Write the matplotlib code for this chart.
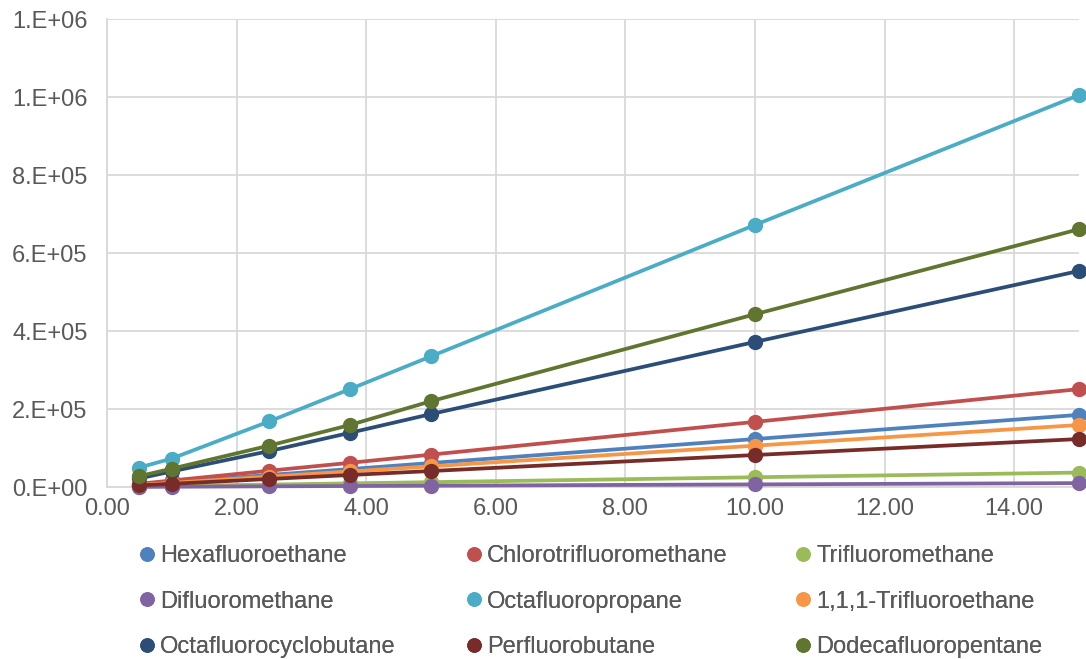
import matplotlib
matplotlib.use("Agg")
import matplotlib.pyplot as plt
from matplotlib.lines import Line2D
from matplotlib.ticker import FuncFormatter, MultipleLocator

# concentration points
x_vals = [0.5, 1.0, 2.5, 3.75, 5.0, 10.0, 15.0]

hexafluoroethane = [6200, 12300, 30800, 46000, 61500, 123000, 185000]
chlorotrifluoromethane = [8300, 16700, 41700, 62000, 83000, 167000, 251000]
trifluoromethane = [1200, 2500, 6200, 9300, 12400, 25000, 37000]
difluoromethane = [330, 670, 1700, 2500, 3300, 6700, 10000]
octafluoropropane = [50000, 73000, 168000, 251000, 335000, 672000, 1005000]
trifluoroethane_111 = [5300, 10600, 26500, 39800, 53000, 106000, 159000]
octafluorocyclobutane = [22000, 40000, 92000, 139000, 187000, 372000, 554000]
perfluorobutane = [4100, 8200, 20500, 30800, 41000, 82000, 123000]
dodecafluoropentane = [28000, 47000, 106000, 159000, 220000, 443000, 661000]

names = ["Hexafluoroethane", "Chlorotrifluoromethane", "Trifluoromethane",
         "Difluoromethane", "Octafluoropropane", "1,1,1-Trifluoroethane",
         "Octafluorocyclobutane", "Perfluorobutane", "Dodecafluoropentane"]
series = [hexafluoroethane, chlorotrifluoromethane, trifluoromethane,
          difluoromethane, octafluoropropane, trifluoroethane_111,
          octafluorocyclobutane, perfluorobutane, dodecafluoropentane]
colors = ["#4F81BD", "#C0504D", "#9BBB59", "#8064A2", "#4BACC6", "#F79646",
          "#2C4D75", "#772C2A", "#5F7530"]

plt.rcParams['font.family'] = ['Liberation Sans', 'DejaVu Sans']
text_color = "#595959"
grid_color = "#D9D9D9"
fsize = 17

fig = plt.figure(figsize=(10.86, 6.59), dpi=100)
ax = fig.add_axes([107 / 1086, 1 - 487 / 659, (1079 - 107) / 1086, (487 - 19) / 659])

for i, (name, ys) in enumerate(zip(names, series)):
    ax.plot(x_vals, ys, color=colors[i], lw=2.7, marker='o', markersize=10,
            label=name, zorder=3 + i, clip_on=False)

ax.set_xlim(0, 15)
ax.set_ylim(0, 1.2e6)
ax.xaxis.set_major_locator(MultipleLocator(2))
ax.yaxis.set_major_locator(MultipleLocator(2e5))


def excel_sci(v, pos):
    if v == 0:
        return "0.E+00"
    exp = len(str(int(abs(v)))) - 1
    mant = int(round(v / 10 ** exp))
    return f"{mant}.E+{exp:02d}"


ax.yaxis.set_major_formatter(FuncFormatter(excel_sci))
ax.xaxis.set_major_formatter(FuncFormatter(lambda v, p: f"{v:.2f}"))

ax.grid(True, color=grid_color, lw=1.3, zorder=0)
ax.set_axisbelow(True)
for side in ["top", "right"]:
    ax.spines[side].set_visible(False)
for side in ["left", "bottom"]:
    ax.spines[side].set_color(grid_color)
    ax.spines[side].set_linewidth(1.3)
ax.tick_params(axis='both', length=0, labelsize=fsize, labelcolor=text_color)
ax.tick_params(axis='y', pad=14)
ax.tick_params(axis='x', pad=8)

# legend: three columns, row-major order
col_x = [140 / 1086, 467 / 1086, 796 / 1086]
for c in range(3):
    idx = [c, c + 3, c + 6]
    handles = [Line2D([], [], lw=0, marker='o', markersize=9.5,
                      color=colors[k]) for k in idx]
    leg = fig.legend(handles, [names[k] for k in idx], loc='upper left',
                     bbox_to_anchor=(col_x[c], 1 - 545 / 659), frameon=False,
                     fontsize=fsize, labelcolor=text_color, handlelength=0.6,
                     handletextpad=0.25, labelspacing=1.0, borderaxespad=0,
                     borderpad=0)
    fig.add_artist(leg)

fig.savefig("out.png", dpi=100)
